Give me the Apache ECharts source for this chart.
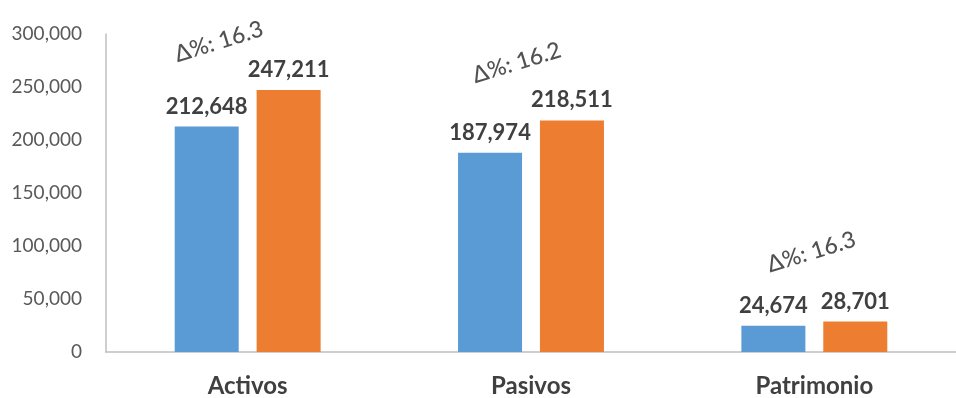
<!DOCTYPE html>
<html><head><meta charset="utf-8">
<script src="https://cdn.jsdelivr.net/npm/echarts@6/dist/echarts.min.js"></script>
<style>html,body{margin:0;padding:0;background:#fff}#c{width:956px;height:398px}</style>
</head><body><div id="c"></div>
<script>
const categories = ["Activos", "Pasivos", "Patrimonio"];
const serieA = [212648, 187974, 24674];
const serieB = [247211, 218511, 28701];
const deltaLabels = ["Δ%: 16.3", "Δ%: 16.2", "Δ%: 16.3"];
const deltaPos = [301000, 277000, 95000];
const deltaOffsetX = [-30, -15, -3];
const yTicks = [0, 50000, 100000, 150000, 200000, 250000, 300000];

const fmt = v => v.toLocaleString('en-US');
const chart = echarts.init(document.getElementById('c'));
const font = "Lato, 'Open Sans', sans-serif";
chart.setOption({
  animation: false,
  grid: {left: 106, right: 0, top: 34, bottom: 46},
  xAxis: {
    type: 'category', data: categories,
    axisLine: {lineStyle: {color: '#bfbfbf', width: 1.5}},
    axisTick: {show: false},
    axisLabel: {color: '#404040', fontSize: 24, fontWeight: 'bold', fontFamily: font, margin: 22}
  },
  yAxis: {
    type: 'value', min: yTicks[0], max: yTicks[yTicks.length - 1], interval: 50000,
    axisLine: {show: true, lineStyle: {color: '#bfbfbf', width: 1.5}},
    axisTick: {show: false},
    splitLine: {show: false},
    axisLabel: {color: '#595959', fontSize: 19, fontFamily: font, margin: 24, formatter: fmt}
  },
  series: [
    {type: 'bar', data: serieA, barWidth: 64, barGap: '28%',
     itemStyle: {color: '#5b9bd5'},
     label: {show: true, position: 'top', distance: 9, formatter: p => fmt(p.value), color: '#404040', fontSize: 22, fontWeight: 'bold', fontFamily: font}},
    {type: 'bar', data: serieB, barWidth: 64,
     itemStyle: {color: '#ed7d31'},
     label: {show: true, position: 'top', distance: 9, formatter: p => fmt(p.value), color: '#404040', fontSize: 22, fontWeight: 'bold', fontFamily: font}},
    {type: 'scatter', clip: false, symbolSize: 1, itemStyle: {color: 'rgba(0,0,0,0)'}, silent: true,
     data: categories.map((c, i) => ({value: [c, deltaPos[i]],
       label: {offset: [deltaOffsetX[i], 0]}})),
     label: {show: true, position: 'inside', rotate: 17, formatter: p => deltaLabels[p.dataIndex],
       color: '#262626', fontSize: 23, fontWeight: 500, fontFamily: font}}
  ]
});
</script></body></html>
